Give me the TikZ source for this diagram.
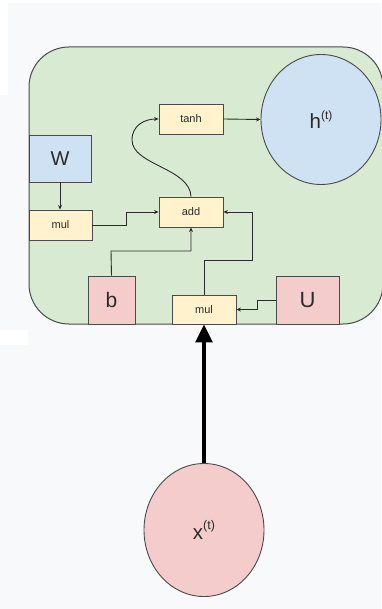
\documentclass[tikz,border=0pt]{standalone}
\usepackage{fontspec}
\setmainfont{Liberation Sans}
\usetikzlibrary{arrows.meta,shapes.geometric}
\definecolor{bg}{HTML}{F8F9FA}
\definecolor{cellfill}{HTML}{D9EAD3}
\definecolor{opfill}{HTML}{FFF2CC}
\definecolor{bluefill}{HTML}{CFE2F3}
\definecolor{pinkfill}{HTML}{F4CCCC}
\definecolor{edge}{HTML}{4A4A4A}
\definecolor{txt}{HTML}{2B2B2B}
\begin{document}
\begin{tikzpicture}[x=1pt,y=-1pt,
  opbox/.style={draw=edge, line width=0.9pt, fill=opfill, inner sep=0pt,
    minimum width=64pt, minimum height=30pt, text=txt,
    font=\fontsize{11}{11}\selectfont},
  parbox/.style={draw=edge, line width=0.9pt, inner sep=0pt, text=txt},
  vecnode/.style={ellipse, draw=edge, line width=0.9pt, inner sep=0pt,
    minimum width=120pt, minimum height=130pt, text=txt,
    font=\fontsize{20.5}{20.5}\selectfont},
  conn/.style={draw=txt, line width=0.9pt, -{Stealth[length=4.5pt,width=4pt]}},
  bigarrow/.style={draw=black, line width=3.2pt, -{Triangle[length=18pt,width=17pt]}}
]
\useasboundingbox (0,0) rectangle (381,609);
% background
\fill[bg] (0,0) rectangle (381,609);
\fill[white] (0,0) rectangle (381,3);
\fill[white] (0,0) rectangle (8,95);
\fill[white] (0,330) rectangle (28,345);
% cell
\draw[edge, line width=1pt, fill=cellfill, rounded corners=40pt] (29,47) rectangle (383,324);
% nodes
\node[vecnode, fill=bluefill] (h) at (321,119.5) {h\raisebox{9pt}{\fontsize{12}{12}\selectfont(t)}};
\node[opbox] (tanh) at (191,119) {tanh};
\node[opbox] (add) at (191,212) {add};
\node[parbox, fill=bluefill, minimum width=62pt, minimum height=47pt, font=\fontsize{20}{20}\selectfont] (W) at (60,158.5) {W};
\node[opbox, minimum width=63pt] (mulw) at (60.5,225) {mul};
\node[parbox, fill=pinkfill, minimum width=47pt, minimum height=48pt, font=\fontsize{21}{21}\selectfont] (b) at (111.5,300) {b};
\node[opbox, minimum height=29pt] (mulu) at (204,309.5) {mul};
\node[parbox, fill=pinkfill, minimum width=63pt, minimum height=48pt, font=\fontsize{22}{22}\selectfont] (U) at (307.5,300) {U};
\node[vecnode, fill=pinkfill, minimum height=133pt] (x) at (204,530) {x\raisebox{9.5pt}{\fontsize{12.5}{12.5}\selectfont(t)}};
% connectors
\draw[conn] (W.south -| 60,0) -- (mulw.north -| 60,0);
\draw[conn] (mulw.east) -- (126,225) -- (126,212) -- (add.west);
\draw[conn] (b.north) -- (111,251) -- (191,251) -- (add.south);
\draw[conn] (mulu.north) -- (204,260.5) -- (252,260.5) -- (252,212) -- (add.east);
\draw[conn] (U.west) -- (257,300) -- (257,309.5) -- (mulu.east);
\draw[conn] (add.north) .. controls (190,168) and (132,165) .. (132,140)
  .. controls (132,125) and (145,119) .. (tanh.west);
\draw[conn] (tanh.east) -- (h.west);
\draw[bigarrow] (x.north) -- (mulu.south);
\end{tikzpicture}
\end{document}
